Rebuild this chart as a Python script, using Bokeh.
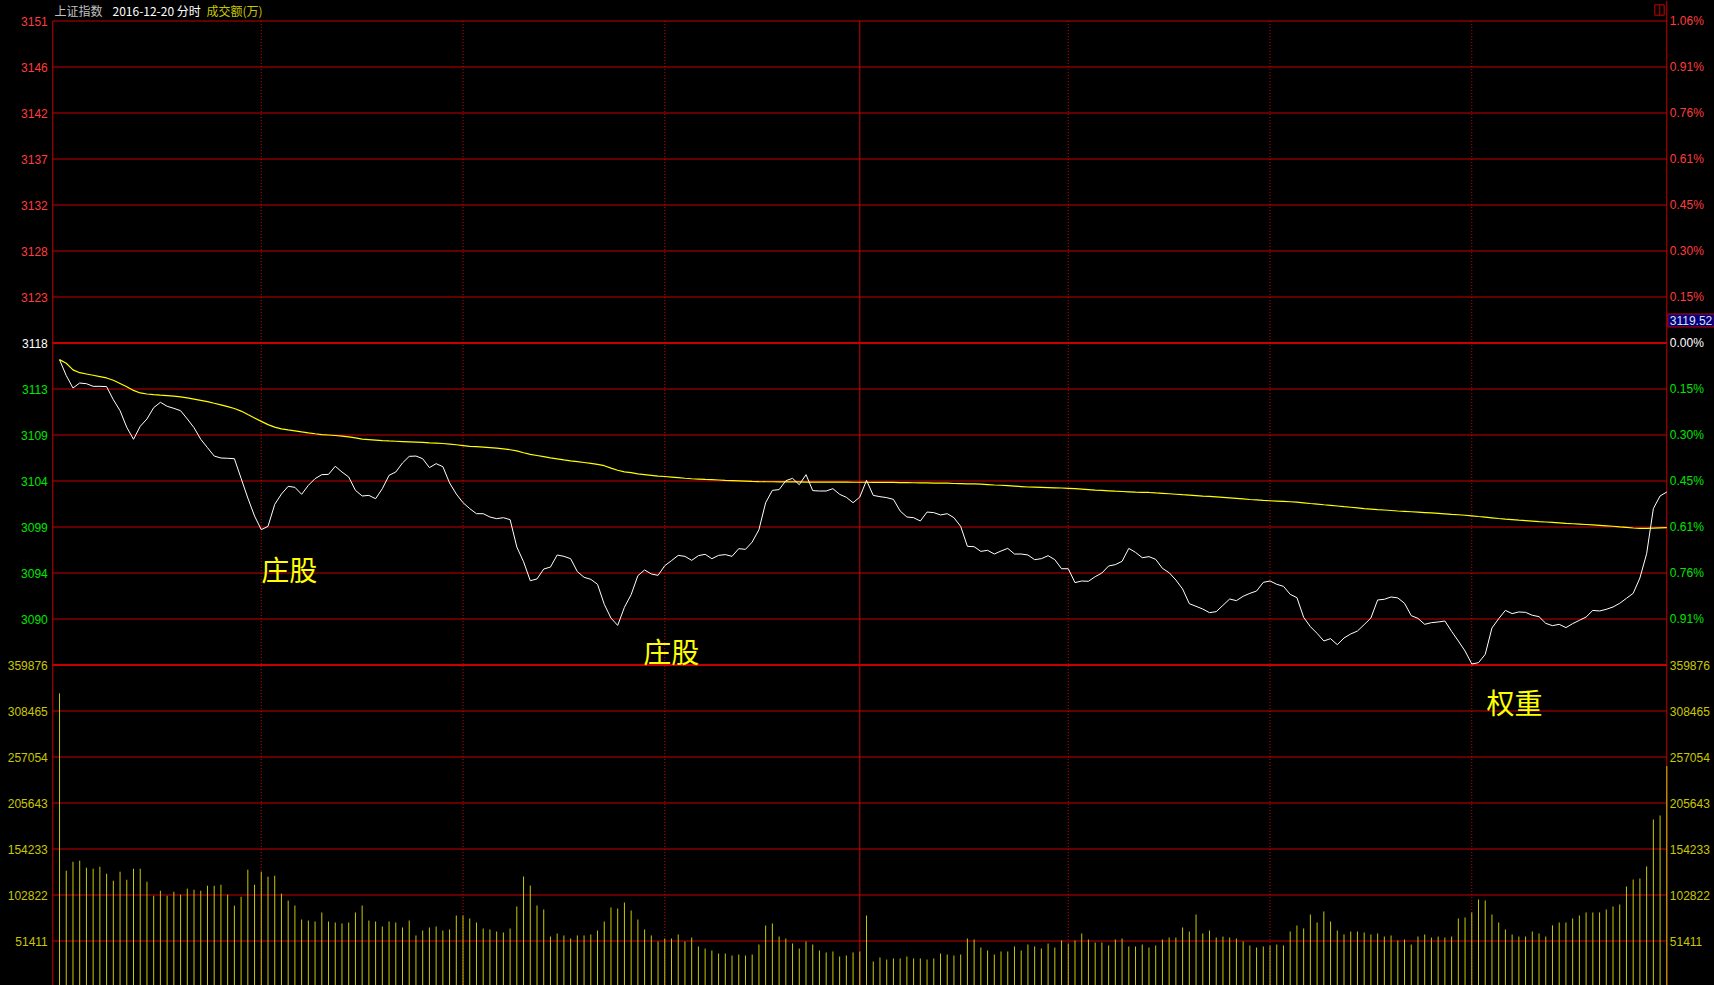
from bokeh.plotting import figure
from bokeh.models import Range1d, LinearAxis, FixedTicker, Label
from bokeh.core.properties import value
from bokeh.embed import file_html
from bokeh.resources import INLINE

# ---------------- data (上证指数 2016-12-20 分时) ----------------
PRE_CLOSE = 3118.08          # previous close
PRICE_STEP = 4.7239          # one grid step of the price panel (0.1515 %)
VOL_STEP = 359876 / 7        # one grid step of the volume panel

minutes = list(range(1, 241))

price = [
    3116.37, 3114.73, 3113.46, 3113.97, 3113.90, 3113.63, 3113.63, 3113.60, 3112.26, 3111.13,
    3109.42, 3108.19, 3109.52, 3110.28, 3111.44, 3111.99, 3111.58, 3111.37, 3111.13, 3110.28,
    3109.38, 3108.19, 3107.33, 3106.47, 3106.27, 3106.24, 3106.20, 3104.18, 3102.16, 3100.31,
    3098.91, 3099.25, 3101.51, 3102.57, 3103.36, 3103.26, 3102.54, 3103.46, 3104.15, 3104.56,
    3104.59, 3105.42, 3104.83, 3104.32, 3102.95, 3102.37, 3102.43, 3102.09, 3103.12, 3104.49,
    3104.83, 3105.76, 3106.44, 3106.47, 3106.20, 3105.28, 3105.69, 3105.38, 3103.71, 3102.57,
    3101.68, 3101.07, 3100.55, 3100.55, 3100.21, 3100.04, 3100.14, 3099.94, 3097.13, 3095.62,
    3093.67, 3093.85, 3094.87, 3095.07, 3096.31, 3096.17, 3095.93, 3094.60, 3094.02, 3093.81,
    3093.30, 3091.25, 3089.83, 3089.08, 3090.94, 3092.24, 3094.19, 3094.77, 3094.36, 3094.22,
    3095.21, 3095.73, 3096.27, 3096.17, 3095.76, 3096.24, 3096.38, 3095.93, 3096.27, 3096.35,
    3096.17, 3096.96, 3096.89, 3097.64, 3098.91, 3101.68, 3102.95, 3103.02, 3103.94, 3104.18,
    3103.53, 3104.56, 3102.92, 3102.88, 3102.88, 3103.12, 3102.54, 3102.23, 3101.68, 3102.26,
    3103.97, 3102.43, 3102.30, 3102.20, 3102.02, 3100.83, 3100.21, 3100.14, 3099.80, 3100.72,
    3100.66, 3100.42, 3100.55, 3100.14, 3099.25, 3097.20, 3097.16, 3096.68, 3096.79, 3096.41,
    3096.72, 3096.99, 3096.41, 3096.41, 3096.31, 3095.83, 3095.93, 3096.24, 3095.83, 3094.90,
    3094.90, 3093.47, 3093.64, 3093.61, 3094.08, 3094.46, 3095.18, 3095.32, 3095.66, 3096.99,
    3096.58, 3096.03, 3096.14, 3095.86, 3094.94, 3094.49, 3093.74, 3092.82, 3091.31, 3091.04,
    3090.76, 3090.39, 3090.49, 3091.14, 3091.79, 3091.62, 3092.07, 3092.37, 3092.61, 3093.50,
    3093.64, 3093.30, 3093.09, 3092.27, 3091.93, 3089.91, 3088.95, 3088.26, 3087.48, 3087.72,
    3087.10, 3087.79, 3088.20, 3088.50, 3089.16, 3089.84, 3091.69, 3091.76, 3092.00, 3091.90,
    3091.35, 3090.08, 3089.80, 3089.19, 3089.36, 3089.43, 3089.53, 3088.47, 3087.48, 3086.45,
    3085.12, 3085.25, 3086.11, 3088.81, 3089.77, 3090.62, 3090.29, 3090.46, 3090.42, 3090.12,
    3089.98, 3089.29, 3089.05, 3089.19, 3088.85, 3089.26, 3089.60, 3089.94, 3090.62, 3090.56,
    3090.73, 3090.97, 3091.35, 3091.86, 3092.37, 3093.95, 3096.44, 3101.07, 3102.37, 3102.78,
]

avg_price = [
    3116.37, 3116.00, 3115.32, 3115.03, 3114.90, 3114.77, 3114.63, 3114.49, 3114.25, 3113.92,
    3113.59, 3113.21, 3112.95, 3112.84, 3112.77, 3112.72, 3112.68, 3112.63, 3112.55, 3112.44,
    3112.32, 3112.19, 3112.06, 3111.89, 3111.73, 3111.54, 3111.35, 3111.09, 3110.73, 3110.38,
    3110.03, 3109.70, 3109.44, 3109.26, 3109.15, 3109.06, 3108.95, 3108.85, 3108.76, 3108.68,
    3108.63, 3108.58, 3108.52, 3108.44, 3108.33, 3108.21, 3108.16, 3108.11, 3108.06, 3108.02,
    3107.99, 3107.96, 3107.93, 3107.90, 3107.87, 3107.83, 3107.80, 3107.76, 3107.70, 3107.63,
    3107.55, 3107.47, 3107.43, 3107.38, 3107.33, 3107.28, 3107.21, 3107.12, 3107.00, 3106.81,
    3106.65, 3106.53, 3106.41, 3106.28, 3106.18, 3106.07, 3105.97, 3105.89, 3105.81, 3105.72,
    3105.61, 3105.48, 3105.23, 3105.01, 3104.85, 3104.76, 3104.64, 3104.57, 3104.49, 3104.41,
    3104.37, 3104.31, 3104.25, 3104.19, 3104.14, 3104.11, 3104.07, 3104.04, 3104.01, 3103.97,
    3103.95, 3103.92, 3103.89, 3103.86, 3103.84, 3103.83, 3103.83, 3103.82, 3103.82, 3103.81,
    3103.81, 3103.80, 3103.80, 3103.80, 3103.80, 3103.79, 3103.79, 3103.79, 3103.78, 3103.78,
    3103.78, 3103.77, 3103.77, 3103.77, 3103.76, 3103.75, 3103.74, 3103.73, 3103.72, 3103.71,
    3103.70, 3103.69, 3103.68, 3103.65, 3103.64, 3103.62, 3103.61, 3103.58, 3103.54, 3103.50,
    3103.47, 3103.44, 3103.39, 3103.34, 3103.29, 3103.27, 3103.25, 3103.23, 3103.21, 3103.19,
    3103.16, 3103.13, 3103.08, 3103.03, 3102.98, 3102.94, 3102.90, 3102.86, 3102.83, 3102.80,
    3102.77, 3102.75, 3102.73, 3102.68, 3102.64, 3102.60, 3102.55, 3102.50, 3102.46, 3102.41,
    3102.36, 3102.32, 3102.27, 3102.22, 3102.17, 3102.12, 3102.07, 3102.01, 3101.96, 3101.91,
    3101.88, 3101.85, 3101.82, 3101.78, 3101.74, 3101.67, 3101.60, 3101.54, 3101.47, 3101.41,
    3101.34, 3101.27, 3101.21, 3101.14, 3101.07, 3101.02, 3100.97, 3100.93, 3100.88, 3100.83,
    3100.79, 3100.75, 3100.71, 3100.67, 3100.63, 3100.58, 3100.53, 3100.48, 3100.44, 3100.39,
    3100.33, 3100.26, 3100.20, 3100.13, 3100.06, 3100.00, 3099.95, 3099.89, 3099.84, 3099.79,
    3099.74, 3099.70, 3099.65, 3099.60, 3099.55, 3099.52, 3099.48, 3099.44, 3099.40, 3099.36,
    3099.31, 3099.26, 3099.19, 3099.14, 3099.08, 3099.05, 3099.05, 3099.07, 3099.09, 3099.11,
]

volume = [
    328100, 130000, 140000, 141200, 133300, 132200, 134400, 126600, 118800, 128900,
    119900, 132200, 132200, 117700, 102000, 107600, 102000, 106500, 103200, 109900,
    108700, 107600, 113200, 113200, 114300, 103200, 90900, 100900, 131100, 114300,
    128900, 123300, 124400, 104400, 96600, 91000, 75400, 74300, 73200, 83300,
    73200, 72100, 71000, 72100, 83300, 91100, 74300, 73200, 67600, 73200,
    72100, 66500, 74300, 57600, 63100, 66500, 67600, 63100, 64300, 79900,
    79900, 76600, 72100, 65400, 64300, 62000, 60900, 65400, 90000, 123500,
    113400, 91100, 86600, 56400, 59800, 57600, 54200, 57600, 57600, 58700,
    63100, 73200, 88900, 87700, 94400, 85500, 75400, 64300, 57600, 50900,
    54200, 54200, 58700, 50900, 55300, 45300, 43000, 40800, 37400, 37400,
    35200, 36300, 35200, 36300, 47500, 68700, 71000, 56400, 54200, 48600,
    43000, 50900, 47500, 40800, 38600, 39700, 34100, 35200, 38600, 39700,
    79900, 28500, 33000, 30700, 31900, 31900, 34100, 31900, 31900, 30700,
    31900, 37400, 36300, 35200, 36300, 54200, 53100, 44100, 40800, 36300,
    39700, 39700, 45300, 40800, 47500, 45300, 43000, 48600, 44100, 52000,
    48600, 52000, 59800, 53100, 49700, 49700, 46400, 53100, 54200, 45300,
    45300, 47500, 44100, 46400, 53100, 55300, 55300, 66500, 62000, 81000,
    59800, 63100, 55300, 56400, 55300, 54200, 50900, 46400, 44100, 45300,
    46400, 47500, 46400, 62000, 68700, 65400, 81000, 72100, 84400, 73200,
    63100, 58700, 62000, 62000, 60900, 58700, 59800, 56400, 57600, 52000,
    53100, 47500, 56400, 58700, 55300, 56400, 55300, 56400, 76600, 77700,
    83300, 97800, 96700, 81000, 72100, 64300, 58700, 56400, 56400, 62000,
    59800, 56400, 68900, 72100, 72100, 76600, 79900, 83300, 83300, 83300,
    86600, 90000, 92200, 112300, 120100, 121300, 134700, 187200, 191700, 246800,
]

# tick labels (top to bottom)
price_labels = ["3151", "3146", "3142", "3137", "3132", "3128", "3123",
                "3118",
                "3113", "3109", "3104", "3099", "3094", "3090"]
pct_labels = ["1.06%", "0.91%", "0.76%", "0.61%", "0.45%", "0.30%", "0.15%",
              "0.00%",
              "0.15%", "0.30%", "0.45%", "0.61%", "0.76%", "0.91%"]
vol_labels = ["359876", "308465", "257054", "205643", "154233", "102822", "51411"]

half_hour_marks = [31, 61, 91, 151, 181, 211]   # dotted time lines
midday_mark = 120                               # 11:30 / 13:00

notes = ["庄股", "庄股", "权重"]
note_minute = [31.0, 87.8, 213.2]
note_price = [3094.82, 3086.45, 3081.23]

cursor_price = 3119.52

header_texts = ["上证指数", "2016-12-20 分时", "成交额(万)"]
header_colors = ["#c0c0c0", "#ffffff", "#c8c800"]

# ---------------- layout (reference pixel geometry) ----------------
REF_W, REF_H = 1714, 985
W, H = 1714, 985
X0_PX, DX_PX = 52.3, 6.725          # x pixel of minute 0, pixels per minute
Y_P0_PX, GRID_PX = 342.5, 46.0      # y pixel of previous close, pixels per grid step
Y_V0_PX = Y_P0_PX + 14 * GRID_PX    # y pixel of zero volume


def jx(xpx):
    return (xpx - X0_PX) / DX_PX


def py(ypx):
    return PRE_CLOSE + (Y_P0_PX - ypx) / GRID_PX * PRICE_STEP


RED = "#c80000"
LBL_RED = "#ff3c3c"
LBL_GREEN = "#00e600"
LBL_WHITE = "#ffffff"
LBL_YELLOW = "#c8c800"

x_range = Range1d(jx(0), jx(REF_W))
price_range = Range1d(py(REF_H), py(0))
vol_range = Range1d((Y_V0_PX - REF_H) / GRID_PX * VOL_STEP, Y_V0_PX / GRID_PX * VOL_STEP)

p = figure(width=W, height=H, x_range=x_range, y_range=price_range,
           x_axis_type=None, y_axis_type=None, toolbar_location=None,
           output_backend="svg", min_border=0,
           background_fill_color="#000000", border_fill_color="#000000",
           outline_line_color=None)
p.extra_y_ranges = {"vol": vol_range}

n_up = 7
price_ticks = [PRE_CLOSE + k * PRICE_STEP for k in range(n_up, n_up - len(price_labels), -1)]
vol_ticks = [VOL_STEP * m for m in range(len(vol_labels), 0, -1)]

x_first, x_last = 0, minutes[-1]

# horizontal grid lines
thin_p = [t for i, t in enumerate(price_ticks) if i != n_up]
p.segment(x0=x_first, x1=x_last, y0=thin_p, y1=thin_p, line_color=RED, line_width=1)
p.segment(x0=x_first, x1=x_last, y0=price_ticks[n_up], y1=price_ticks[n_up],
          line_color=RED, line_width=2)
p.segment(x0=x_first, x1=x_last, y0=vol_ticks[1:], y1=vol_ticks[1:],
          line_color=RED, line_width=1, y_range_name="vol")
p.segment(x0=x_first, x1=x_last, y0=vol_ticks[0], y1=vol_ticks[0],
          line_color=RED, line_width=2, y_range_name="vol")

# vertical lines
top = price_ticks[0]
bottom = price_range.start
p.segment(x0=half_hour_marks, x1=half_hour_marks, y0=top, y1=bottom,
          line_color=RED, line_width=1, line_dash="1 2")
p.segment(x0=[x_first, midday_mark], x1=[x_first, midday_mark], y0=top, y1=bottom,
          line_color=RED, line_width=1)
p.segment(x0=x_last, x1=x_last, y0=price_range.end, y1=bottom, line_color=RED, line_width=1)

# volume bars
p.segment(x0=minutes, x1=minutes, y0=0, y1=volume, line_color="#c8c800",
          line_width=1, y_range_name="vol")

# average and price lines
p.line(minutes, avg_price, line_color="#ffff00", line_width=1.2)
p.line(minutes, price, line_color="#ffffff", line_width=1)

# annotations
p.text(x=note_minute, y=note_price, text=notes, text_font=value("Noto Sans CJK SC"),
       text_font_size="28px", text_color="#ffff00", text_align="left",
       text_baseline="middle")

# header
p.text(x=[jx(54), jx(112), jx(206)], y=[py(10)] * 3, text=header_texts,
       text_font=value("Noto Sans CJK SC"), text_font_size="12px",
       text_color=header_colors, text_align="left", text_baseline="middle")

# small button at top right
p.quad(left=jx(1654.3), right=jx(1663.7), top=py(4.3), bottom=py(14.7),
       fill_color=None, line_color=RED, line_width=1)
p.segment(x0=jx(1659.3), x1=jx(1659.3), y0=py(4.3), y1=py(14.7), line_color=RED, line_width=1)

# cursor price box
p.add_layout(Label(x=x_last, y=cursor_price, text="3119.52", text_align="left",
                   text_baseline="bottom", text_font="Liberation Sans",
                   text_font_size="12px", text_color="#e0e0e0",
                   background_fill_color="#000080", border_line_color=RED,
                   padding=2, x_offset=1, y_offset=2))


def add_axis(side, loc, ticks, labels, color, range_name="default", standoff=4):
    ax = LinearAxis(fixed_location=loc, y_range_name=range_name,
                    ticker=FixedTicker(ticks=ticks, minor_ticks=[]),
                    major_label_overrides={t: l for t, l in zip(ticks, labels)})
    ax.axis_line_color = None
    ax.major_tick_line_color = None
    ax.minor_tick_line_color = None
    ax.major_tick_in = 0
    ax.major_tick_out = 0
    ax.minor_tick_in = 0
    ax.minor_tick_out = 0
    ax.major_label_standoff = standoff
    ax.major_label_text_color = color
    ax.major_label_text_font = "Liberation Sans"
    ax.major_label_text_font_size = "12px"
    p.add_layout(ax, side)


groups = [(slice(0, n_up), LBL_RED), (slice(n_up, n_up + 1), LBL_WHITE),
          (slice(n_up + 1, len(price_ticks)), LBL_GREEN)]
for sl, col in groups:
    add_axis("left", x_first, price_ticks[sl], price_labels[sl], col, standoff=5)
    add_axis("right", x_last, price_ticks[sl], pct_labels[sl], col, standoff=3)
add_axis("left", x_first, vol_ticks, vol_labels, LBL_YELLOW, "vol", standoff=5)
add_axis("right", x_last, vol_ticks, vol_labels, LBL_YELLOW, "vol", standoff=3)

html = file_html(p, INLINE, title="上证指数 2016-12-20 分时")
html = html.replace(
    "<head>",
    "<head><style>html,body{margin:0;padding:0;background-color:#000000;overflow:hidden;}</style>",
    1)
open("out.html", "w").write(html)
